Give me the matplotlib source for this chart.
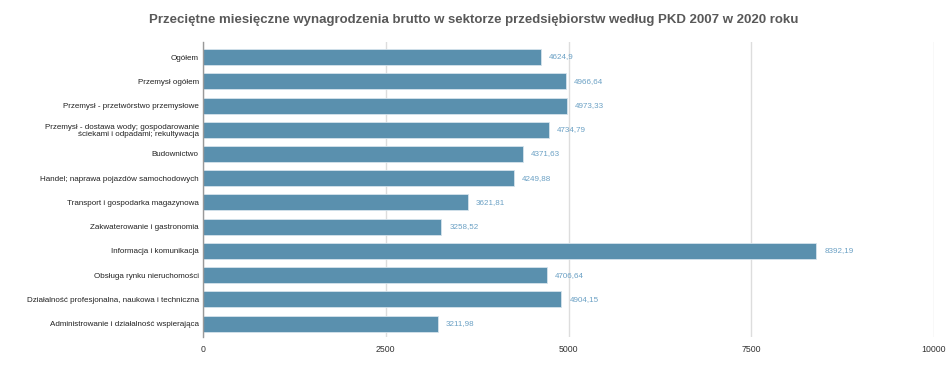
import matplotlib
matplotlib.use("Agg")
import matplotlib.pyplot as plt

categories = [
    "Ogółem",
    "Przemysł ogółem",
    "Przemysł - przetwórstwo przemysłowe",
    "Przemysł - dostawa wody; gospodarowanie\nściekami i odpadami; rekultywacja",
    "Budownictwo",
    "Handel; naprawa pojazdów samochodowych",
    "Transport i gospodarka magazynowa",
    "Zakwaterowanie i gastronomia",
    "Informacja i komunikacja",
    "Obsługa rynku nieruchomości",
    "Działalność profesjonalna, naukowa i techniczna",
    "Administrowanie i działalność wspierająca",
]
values = [4624.9, 4966.64, 4973.33, 4734.79, 4371.63, 4249.88,
          3621.81, 3258.52, 8392.19, 4706.64, 4904.15, 3211.98]
value_labels = ["4624,9", "4966,64", "4973,33", "4734,79", "4371,63", "4249,88",
                "3621,81", "3258,52", "8392,19", "4706,64", "4904,15", "3211,98"]
xticks = [0, 2500, 5000, 7500, 10000]

plt.rcParams['font.family'] = ['Liberation Sans', 'DejaVu Sans']

fig = plt.figure(figsize=(9.48, 3.66), dpi=100)
ax = fig.add_axes([203/948, 1-337/366, (934-203)/948, (337-42)/366])

y = list(range(len(categories)))
ax.barh(y, values, height=0.66, color="#5a90ae", edgecolor="#d5e3ec", linewidth=0.6, zorder=3)
for yi, v, lab in zip(y, values, value_labels):
    ax.text(v + 110, yi, lab, va="center", ha="left", fontsize=5.8, color="#6aa0c4")

ax.set_ylim(len(categories) - 0.45, -0.62)
ax.set_xlim(0, 10000)
ax.set_yticks(y)
ax.set_yticklabels(categories, fontsize=5.8, color="#222222", linespacing=1.15)
ax.set_xticks(xticks)
ax.set_xticklabels([str(t) for t in xticks], fontsize=6.3, color="#333333")
ax.tick_params(axis="y", length=0, pad=3)
ax.tick_params(axis="x", length=0, pad=5.5)
ax.grid(axis="x", color="#dddddd", linewidth=1, zorder=0)
for s in ["top", "right", "bottom"]:
    ax.spines[s].set_visible(False)
ax.spines["left"].set_color("#999999")
ax.spines["left"].set_linewidth(1)
ax.spines["left"].set_zorder(4)

fig.text(0.5, 1-20/366, "Przeciętne miesięczne wynagrodzenia brutto w sektorze przedsiębiorstw według PKD 2007 w 2020 roku",
         ha="center", va="center", fontsize=9.5, fontweight="bold", color="#595959")

fig.savefig("out.png", dpi=100, facecolor="white")
